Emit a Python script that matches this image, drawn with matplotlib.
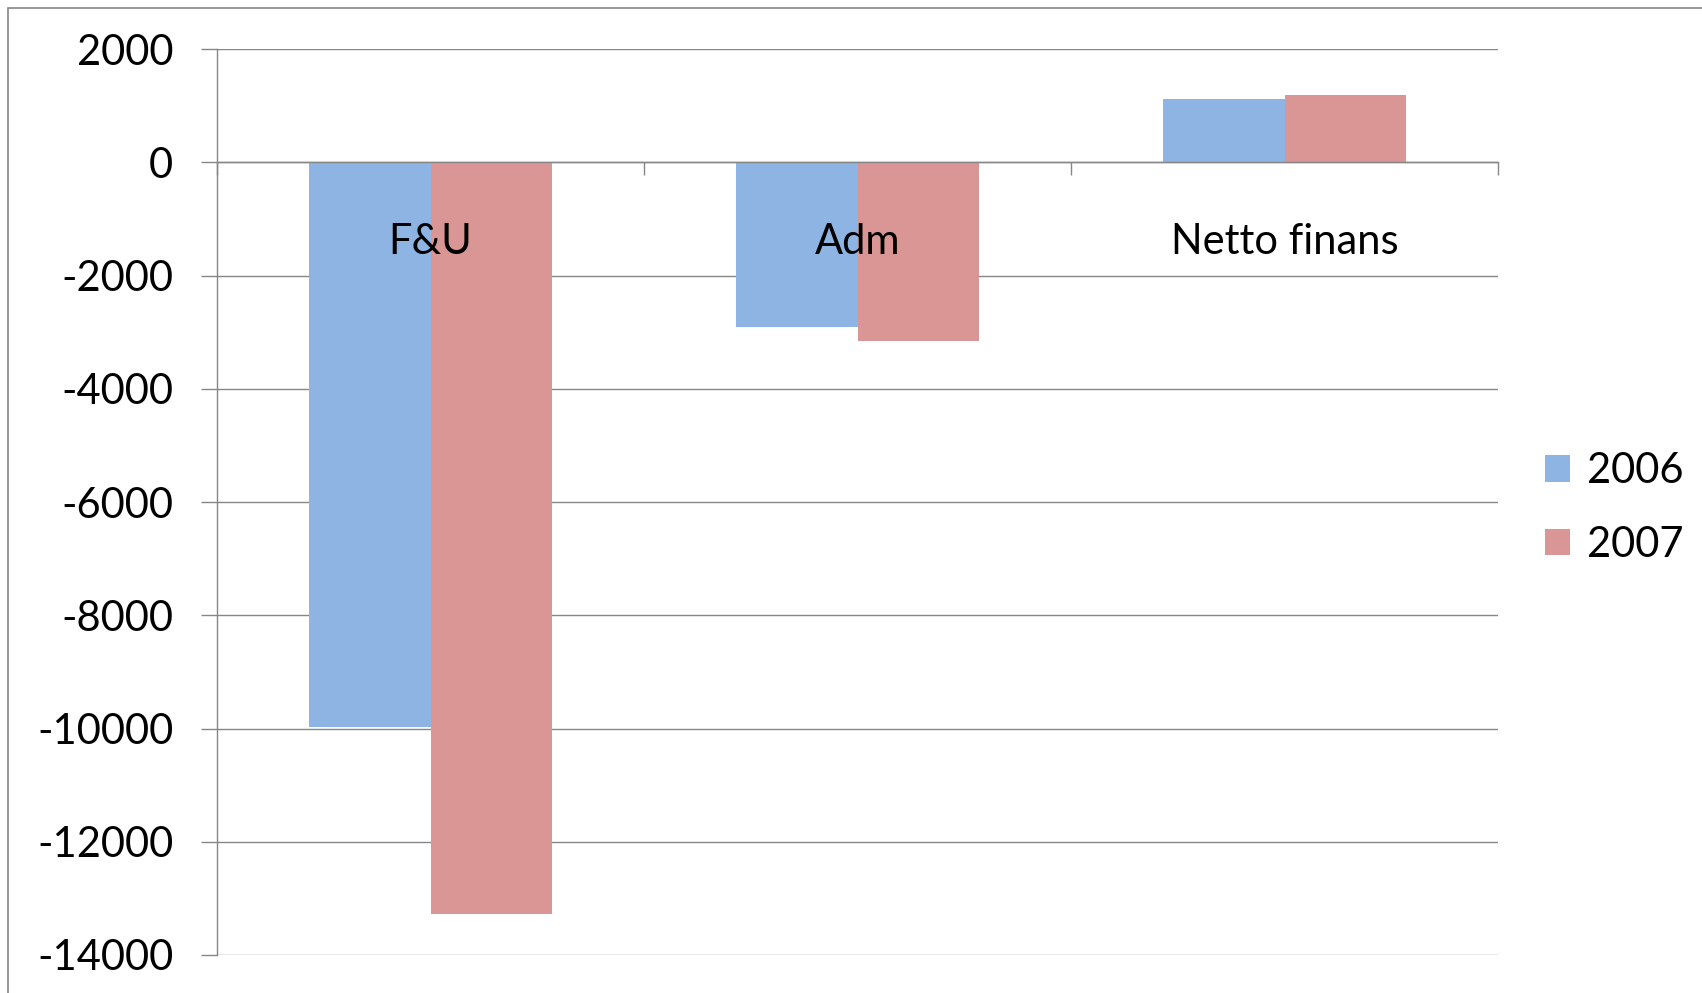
import numpy as np
import matplotlib
matplotlib.use("Agg")
import matplotlib.pyplot as plt
from matplotlib.patches import Rectangle

categories = ["F&U", "Adm", "Netto finans"]
years = ["2006", "2007"]
values_2006 = [-9980, -2910, 1110]
values_2007 = [-13280, -3160, 1180]
y_ticks = [2000, 0, -2000, -4000, -6000, -8000, -10000, -12000, -14000]

colors = ["#8EB4E3", "#D99694"]
grid_color = "#868686"


def main():
    plt.rcParams["font.family"] = ["Lato", "DejaVu Sans"]
    fig = plt.figure(figsize=(17.02, 9.93), dpi=100)
    W, H = 1702, 993

    # outer chart border
    fig.patches.append(Rectangle((8 / W, -0.1), 1.2, 1 - 8 / H + 0.1,
                                 transform=fig.transFigure, fill=False,
                                 edgecolor=grid_color, linewidth=1.2))

    ax = fig.add_axes([217 / W, 1 - 955 / H, (1498 - 217) / W, (955 - 49) / H])

    x = np.arange(len(categories))
    width = 0.2857
    ax.bar(x - width / 2, values_2006, width, color=colors[0], label=years[0], zorder=3)
    ax.bar(x + width / 2, values_2007, width, color=colors[1], label=years[1], zorder=3)

    ax.set_xlim(-0.5, len(categories) - 0.5)
    ax.set_ylim(-14000, 2000)
    ax.set_yticks(y_ticks)
    ax.set_yticklabels([str(v) for v in y_ticks], fontsize=30)
    ax.set_axisbelow(True)
    ax.yaxis.grid(True, color=grid_color, linewidth=1.0)
    ax.xaxis.set_zorder(5)  # category labels sit on top of the bars

    for s in ["top", "right"]:
        ax.spines[s].set_visible(False)
    ax.spines["left"].set_color(grid_color)
    ax.spines["left"].set_linewidth(1.0)
    ax.spines["bottom"].set_position(("data", 0))
    ax.spines["bottom"].set_color(grid_color)
    ax.spines["bottom"].set_linewidth(1.0)
    ax.spines["bottom"].set_zorder(4)

    ax.tick_params(axis="y", direction="out", length=11.5, width=1.0,
                   color=grid_color, pad=20)

    ax.set_xticks(x)
    ax.set_xticklabels(categories, fontsize=30)
    ax.tick_params(axis="x", which="major", length=0, pad=44)
    ax.set_xticks(np.arange(-0.5, len(categories)), minor=True)
    ax.tick_params(axis="x", which="minor", direction="out", length=9,
                   width=1.0, color=grid_color)

    fig.legend(loc="center left", bbox_to_anchor=(1545 / W, 1 - 508 / H),
               frameon=False, fontsize=30, handlelength=0.6, handleheight=0.6,
               handletextpad=0.4, labelspacing=0.85, borderpad=0,
               borderaxespad=0)

    fig.savefig("out.png", dpi=100)


if __name__ == "__main__":
    main()
